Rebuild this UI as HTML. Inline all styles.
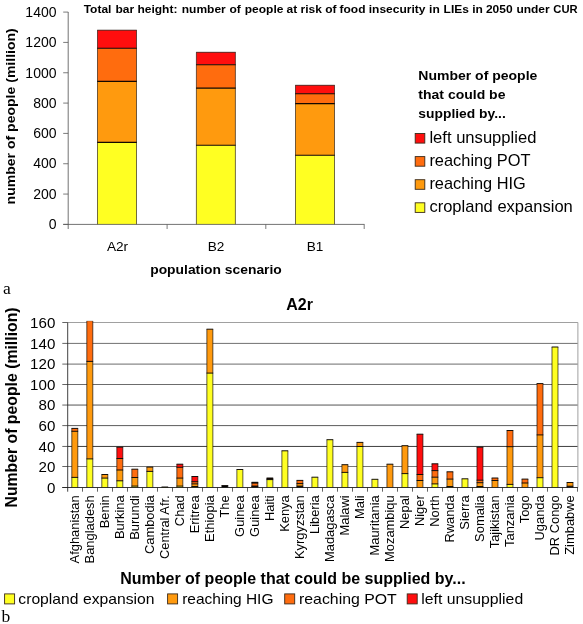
<!DOCTYPE html>
<html><head><meta charset="utf-8"><title>Food insecurity chart</title>
<style>html,body{margin:0;padding:0;background:#fff;}body{width:583px;height:624px;overflow:hidden;}svg{display:block;will-change:transform;}text{font-family:"Liberation Sans",sans-serif;fill:#000;}.b{font-weight:bold;}.s{font-family:"Liberation Serif",serif;}</style></head><body>
<svg width="583" height="624" viewBox="0 0 583 624">
<rect x="0" y="0" width="583" height="624" fill="#fff"/>
<g id="top">
<rect x="97.50" y="142.40" width="39.00" height="82.00" fill="#FFFF22"/>
<rect x="97.50" y="81.40" width="39.00" height="61.00" fill="#FF9A0E"/>
<rect x="97.50" y="48.30" width="39.00" height="33.10" fill="#FF6C0E"/>
<rect x="97.50" y="30.20" width="39.00" height="18.10" fill="#FF0E0E"/>
<path d="M97.50 224.40 V30.20 M136.50 224.40 V30.20" stroke="#120800" stroke-width="0.6" fill="none"/>
<path d="M97.20 142.40 H136.80 M97.20 81.40 H136.80 M97.20 48.30 H136.80 " stroke="#120800" stroke-width="1.1" fill="none"/>
<path d="M97.20 30.20 H136.80" stroke="#120800" stroke-width="0.7" fill="none"/>
<rect x="196.40" y="145.20" width="39.00" height="79.20" fill="#FFFF22"/>
<rect x="196.40" y="88.10" width="39.00" height="57.10" fill="#FF9A0E"/>
<rect x="196.40" y="64.70" width="39.00" height="23.40" fill="#FF6C0E"/>
<rect x="196.40" y="52.30" width="39.00" height="12.40" fill="#FF0E0E"/>
<path d="M196.40 224.40 V52.30 M235.40 224.40 V52.30" stroke="#120800" stroke-width="0.6" fill="none"/>
<path d="M196.10 145.20 H235.70 M196.10 88.10 H235.70 M196.10 64.70 H235.70 " stroke="#120800" stroke-width="1.1" fill="none"/>
<path d="M196.10 52.30 H235.70" stroke="#120800" stroke-width="0.7" fill="none"/>
<rect x="295.50" y="155.30" width="39.00" height="69.10" fill="#FFFF22"/>
<rect x="295.50" y="103.60" width="39.00" height="51.70" fill="#FF9A0E"/>
<rect x="295.50" y="93.80" width="39.00" height="9.80" fill="#FF6C0E"/>
<rect x="295.50" y="85.30" width="39.00" height="8.50" fill="#FF0E0E"/>
<path d="M295.50 224.40 V85.30 M334.50 224.40 V85.30" stroke="#120800" stroke-width="0.6" fill="none"/>
<path d="M295.20 155.30 H334.80 M295.20 103.60 H334.80 M295.20 93.80 H334.80 " stroke="#120800" stroke-width="1.1" fill="none"/>
<path d="M295.20 85.30 H334.80" stroke="#120800" stroke-width="0.7" fill="none"/>
<path d="M68.2 12 V229" stroke="#5a5a5a" stroke-width="0.85" fill="none"/>
<path d="M63.2 224.4 H364.5" stroke="#5a5a5a" stroke-width="0.85" fill="none"/>
<path d="M63.2 224.40 H68.2 M63.2 194.07 H68.2 M63.2 163.74 H68.2 M63.2 133.41 H68.2 M63.2 103.08 H68.2 M63.2 72.75 H68.2 M63.2 42.42 H68.2 M63.2 12.09 H68.2 M167.1 224.4 V229 M265.8 224.4 V229 M364.2 224.4 V229 " stroke="#5a5a5a" stroke-width="0.8" fill="none"/>
<text x="56.5" y="229.15" font-size="14" text-anchor="end">0</text>
<text x="56.5" y="198.82" font-size="14" text-anchor="end">200</text>
<text x="56.5" y="168.49" font-size="14" text-anchor="end">400</text>
<text x="56.5" y="138.16" font-size="14" text-anchor="end">600</text>
<text x="56.5" y="107.83" font-size="14" text-anchor="end">800</text>
<text x="56.5" y="77.50" font-size="14" text-anchor="end">1000</text>
<text x="56.5" y="47.17" font-size="14" text-anchor="end">1200</text>
<text x="56.5" y="16.84" font-size="14" text-anchor="end">1400</text>
<text x="117.5" y="250.6" font-size="13.6" text-anchor="middle">A2r</text>
<text x="216" y="250.6" font-size="13.6" text-anchor="middle">B2</text>
<text x="315" y="250.6" font-size="13.6" text-anchor="middle">B1</text>
<text class="b" x="150.2" y="274.4" font-size="12.7" textLength="131.6" lengthAdjust="spacingAndGlyphs">population scenario</text>
<text class="b" transform="translate(14.9 204.4) rotate(-90)" font-size="12.4" textLength="176.2" lengthAdjust="spacingAndGlyphs">number of people (million)</text>
<text class="b" transform="translate(0.4 13.1) scale(1 0.945)" y="0" font-size="12"><tspan x="83.3">Total </tspan><tspan x="115.1">bar </tspan><tspan x="137.1">height: </tspan><tspan x="181.4">number </tspan><tspan x="229.1">of </tspan><tspan x="244.4">people </tspan><tspan x="286.2">at </tspan><tspan x="300.2">risk </tspan><tspan x="324.9">of </tspan><tspan x="339.1">food </tspan><tspan x="368.4">insecurity </tspan><tspan x="428.7">in </tspan><tspan x="443.2">LIEs </tspan><tspan x="471.9">in </tspan><tspan x="485.5">2050 </tspan><tspan x="516.0">under </tspan><tspan x="552.9" textLength="24.3" lengthAdjust="spacingAndGlyphs">CUR</tspan></text>
<text class="b" x="418.35" y="79.8" font-size="13.5" textLength="119.0" lengthAdjust="spacingAndGlyphs">Number of people</text>
<text class="b" x="418.35" y="98.8" font-size="13.5" textLength="87.1" lengthAdjust="spacingAndGlyphs">that could be</text>
<text class="b" x="418.35" y="117.8" font-size="13.5" textLength="87.4" lengthAdjust="spacingAndGlyphs">supplied by...</text>
<rect x="415.2" y="133.5" width="9.6" height="9.6" fill="#FF0E0E" stroke="#3a2a1a" stroke-width="0.9"/>
<text x="429.4" y="143.0" font-size="15.9" textLength="107.0" lengthAdjust="spacingAndGlyphs">left unsupplied</text>
<rect x="415.2" y="156.6" width="9.6" height="9.6" fill="#FF6C0E" stroke="#3a2a1a" stroke-width="0.9"/>
<text x="429.4" y="166.1" font-size="15.9" textLength="101.2" lengthAdjust="spacingAndGlyphs">reaching POT</text>
<rect x="415.2" y="179.7" width="9.6" height="9.6" fill="#FF9A0E" stroke="#3a2a1a" stroke-width="0.9"/>
<text x="429.4" y="189.2" font-size="15.9" textLength="96.3" lengthAdjust="spacingAndGlyphs">reaching HIG</text>
<rect x="415.2" y="202.8" width="9.6" height="9.6" fill="#FFFF22" stroke="#3a2a1a" stroke-width="0.9"/>
<text x="429.4" y="212.3" font-size="15.9" textLength="143.4" lengthAdjust="spacingAndGlyphs">cropland expansion</text>
<text class="s" x="2.9" y="293.6" font-size="17.5">a</text>
</g>
<g id="bot">
<path d="M67.7 466.5 H577.9" stroke="#777" stroke-width="1" fill="none"/>
<path d="M67.7 446.45 H577.9" stroke="#3e3e3e" stroke-width="1" fill="none"/>
<path d="M67.7 425.6 H577.9" stroke="#5c5c5c" stroke-width="1" fill="none"/>
<path d="M67.7 405.05 H577.9" stroke="#555" stroke-width="1" fill="none"/>
<path d="M67.7 384.5 H577.9" stroke="#6c6c6c" stroke-width="1" fill="none"/>
<path d="M67.7 364.1 H577.9" stroke="#6c6c6c" stroke-width="1" fill="none"/>
<path d="M67.7 343.4 H577.9" stroke="#707070" stroke-width="1" fill="none"/>
<path d="M67.7 322.5 H577.9 V487.5" stroke="#a0a0a0" stroke-width="1" fill="none"/>
<rect x="71.80" y="477.40" width="6.00" height="10.10" fill="#FFFF22"/>
<rect x="71.80" y="431.30" width="6.00" height="46.10" fill="#FF9A0E"/>
<rect x="71.80" y="428.40" width="6.00" height="2.90" fill="#FF6C0E"/>
<path d="M71.80 487.50 V428.40 M77.80 487.50 V428.40" stroke="#0a0500" stroke-width="0.65" fill="none"/>
<path d="M71.48 477.40 H78.13 M71.48 431.30 H78.13 " stroke="#0a0500" stroke-width="0.95" fill="none"/>
<path d="M71.48 428.40 H78.13" stroke="#0a0500" stroke-width="0.95" fill="none"/>
<rect x="86.81" y="458.90" width="6.00" height="28.60" fill="#FFFF22"/>
<rect x="86.81" y="361.40" width="6.00" height="97.50" fill="#FF9A0E"/>
<rect x="86.81" y="321.10" width="6.00" height="40.30" fill="#FF6C0E"/>
<path d="M86.81 487.50 V321.10 M92.81 487.50 V321.10" stroke="#0a0500" stroke-width="0.65" fill="none"/>
<path d="M86.48 458.90 H93.13 M86.48 361.40 H93.13 " stroke="#0a0500" stroke-width="0.95" fill="none"/>
<path d="M86.48 321.10 H93.13" stroke="#0a0500" stroke-width="0.25" fill="none"/>
<rect x="101.81" y="478.10" width="6.00" height="9.40" fill="#FFFF22"/>
<rect x="101.81" y="474.50" width="6.00" height="3.60" fill="#FF9A0E"/>
<path d="M101.81 487.50 V474.50 M107.81 487.50 V474.50" stroke="#0a0500" stroke-width="0.65" fill="none"/>
<path d="M101.49 478.10 H108.14 " stroke="#0a0500" stroke-width="0.95" fill="none"/>
<path d="M101.49 474.50 H108.14" stroke="#0a0500" stroke-width="0.95" fill="none"/>
<rect x="116.82" y="480.80" width="6.00" height="6.70" fill="#FFFF22"/>
<rect x="116.82" y="470.00" width="6.00" height="10.80" fill="#FF9A0E"/>
<rect x="116.82" y="458.50" width="6.00" height="11.50" fill="#FF6C0E"/>
<rect x="116.82" y="447.20" width="6.00" height="11.30" fill="#FF0E0E"/>
<path d="M116.82 487.50 V447.20 M122.82 487.50 V447.20" stroke="#0a0500" stroke-width="0.65" fill="none"/>
<path d="M116.50 480.80 H123.15 M116.50 470.00 H123.15 M116.50 458.50 H123.15 " stroke="#0a0500" stroke-width="0.95" fill="none"/>
<path d="M116.50 447.20 H123.15" stroke="#0a0500" stroke-width="0.95" fill="none"/>
<rect x="131.83" y="486.10" width="6.00" height="1.40" fill="#FFFF22"/>
<rect x="131.83" y="477.50" width="6.00" height="8.60" fill="#FF9A0E"/>
<rect x="131.83" y="469.20" width="6.00" height="8.30" fill="#FF6C0E"/>
<path d="M131.83 487.50 V469.20 M137.83 487.50 V469.20" stroke="#0a0500" stroke-width="0.65" fill="none"/>
<path d="M131.50 486.10 H138.15 M131.50 477.50 H138.15 " stroke="#0a0500" stroke-width="0.95" fill="none"/>
<path d="M131.50 469.20 H138.15" stroke="#0a0500" stroke-width="0.95" fill="none"/>
<rect x="146.83" y="471.40" width="6.00" height="16.10" fill="#FFFF22"/>
<rect x="146.83" y="467.10" width="6.00" height="4.30" fill="#FF9A0E"/>
<path d="M146.83 487.50 V467.10 M152.83 487.50 V467.10" stroke="#0a0500" stroke-width="0.65" fill="none"/>
<path d="M146.51 471.40 H153.16 " stroke="#0a0500" stroke-width="0.95" fill="none"/>
<path d="M146.51 467.10 H153.16" stroke="#0a0500" stroke-width="0.95" fill="none"/>
<rect x="161.84" y="487.00" width="6.00" height="0.50" fill="#FFFF22"/>
<path d="M161.84 487.50 V487.00 M167.84 487.50 V487.00" stroke="#0a0500" stroke-width="0.65" fill="none"/>
<path d="M161.51 487.00 H168.16" stroke="#0a0500" stroke-width="0.95" fill="none"/>
<rect x="176.84" y="486.10" width="6.00" height="1.40" fill="#FFFF22"/>
<rect x="176.84" y="478.10" width="6.00" height="8.00" fill="#FF9A0E"/>
<rect x="176.84" y="467.30" width="6.00" height="10.80" fill="#FF6C0E"/>
<rect x="176.84" y="464.20" width="6.00" height="3.10" fill="#FF0E0E"/>
<path d="M176.84 487.50 V464.20 M182.84 487.50 V464.20" stroke="#0a0500" stroke-width="0.65" fill="none"/>
<path d="M176.52 486.10 H183.17 M176.52 478.10 H183.17 M176.52 467.30 H183.17 " stroke="#0a0500" stroke-width="0.95" fill="none"/>
<path d="M176.52 464.20 H183.17" stroke="#0a0500" stroke-width="0.95" fill="none"/>
<rect x="191.85" y="486.50" width="6.00" height="1.00" fill="#FFFF22"/>
<rect x="191.85" y="483.90" width="6.00" height="2.60" fill="#FF9A0E"/>
<rect x="191.85" y="481.70" width="6.00" height="2.20" fill="#FF6C0E"/>
<rect x="191.85" y="476.50" width="6.00" height="5.20" fill="#FF0E0E"/>
<path d="M191.85 487.50 V476.50 M197.85 487.50 V476.50" stroke="#0a0500" stroke-width="0.65" fill="none"/>
<path d="M191.53 486.50 H198.17 M191.53 483.90 H198.17 M191.53 481.70 H198.17 " stroke="#0a0500" stroke-width="0.95" fill="none"/>
<path d="M191.53 476.50 H198.17" stroke="#0a0500" stroke-width="0.95" fill="none"/>
<rect x="206.86" y="373.10" width="6.00" height="114.40" fill="#FFFF22"/>
<rect x="206.86" y="329.20" width="6.00" height="43.90" fill="#FF9A0E"/>
<path d="M206.86 487.50 V329.20 M212.86 487.50 V329.20" stroke="#0a0500" stroke-width="0.65" fill="none"/>
<path d="M206.53 373.10 H213.18 " stroke="#0a0500" stroke-width="0.95" fill="none"/>
<path d="M206.53 329.20 H213.18" stroke="#0a0500" stroke-width="0.95" fill="none"/>
<rect x="221.86" y="485.60" width="6.00" height="1.90" fill="#000"/>
<path d="M221.86 487.50 V485.60 M227.86 487.50 V485.60" stroke="#0a0500" stroke-width="0.65" fill="none"/>
<path d="M221.54 485.60 H228.19" stroke="#0a0500" stroke-width="0.95" fill="none"/>
<rect x="236.87" y="469.50" width="6.00" height="18.00" fill="#FFFF22"/>
<path d="M236.87 487.50 V469.50 M242.87 487.50 V469.50" stroke="#0a0500" stroke-width="0.65" fill="none"/>
<path d="M236.54 469.50 H243.19" stroke="#0a0500" stroke-width="0.95" fill="none"/>
<rect x="251.87" y="486.30" width="6.00" height="1.20" fill="#000"/>
<rect x="251.87" y="486.20" width="6.00" height="0.10" fill="#FF9A0E"/>
<rect x="251.87" y="483.10" width="6.00" height="3.10" fill="#FF6C0E"/>
<rect x="251.87" y="482.30" width="6.00" height="0.80" fill="#000"/>
<path d="M251.87 487.50 V482.30 M257.87 487.50 V482.30" stroke="#0a0500" stroke-width="0.65" fill="none"/>
<path d="M251.55 486.30 H258.20 M251.55 486.20 H258.20 M251.55 483.10 H258.20 " stroke="#0a0500" stroke-width="0.95" fill="none"/>
<path d="M251.55 482.30 H258.20" stroke="#0a0500" stroke-width="0.95" fill="none"/>
<rect x="266.88" y="479.60" width="6.00" height="7.90" fill="#FFFF22"/>
<rect x="266.88" y="478.00" width="6.00" height="1.60" fill="#1a0c00"/>
<path d="M266.88 487.50 V478.00 M272.88 487.50 V478.00" stroke="#0a0500" stroke-width="0.65" fill="none"/>
<path d="M266.55 479.60 H273.20 " stroke="#0a0500" stroke-width="0.95" fill="none"/>
<path d="M266.55 478.00 H273.20" stroke="#0a0500" stroke-width="0.95" fill="none"/>
<rect x="281.89" y="450.80" width="6.00" height="36.70" fill="#FFFF22"/>
<path d="M281.89 487.50 V450.80 M287.89 487.50 V450.80" stroke="#0a0500" stroke-width="0.65" fill="none"/>
<path d="M281.56 450.80 H288.21" stroke="#0a0500" stroke-width="0.95" fill="none"/>
<rect x="296.89" y="486.10" width="6.00" height="1.40" fill="#000"/>
<rect x="296.89" y="483.60" width="6.00" height="2.50" fill="#FF9A0E"/>
<rect x="296.89" y="480.40" width="6.00" height="3.20" fill="#FF6C0E"/>
<path d="M296.89 487.50 V480.40 M302.89 487.50 V480.40" stroke="#0a0500" stroke-width="0.65" fill="none"/>
<path d="M296.57 486.10 H303.22 M296.57 483.60 H303.22 " stroke="#0a0500" stroke-width="0.95" fill="none"/>
<path d="M296.57 480.40 H303.22" stroke="#0a0500" stroke-width="0.95" fill="none"/>
<rect x="311.90" y="477.20" width="6.00" height="10.30" fill="#FFFF22"/>
<path d="M311.90 487.50 V477.20 M317.90 487.50 V477.20" stroke="#0a0500" stroke-width="0.65" fill="none"/>
<path d="M311.57 477.20 H318.22" stroke="#0a0500" stroke-width="0.95" fill="none"/>
<rect x="326.90" y="439.70" width="6.00" height="47.80" fill="#FFFF22"/>
<path d="M326.90 487.50 V439.70 M332.90 487.50 V439.70" stroke="#0a0500" stroke-width="0.65" fill="none"/>
<path d="M326.58 439.70 H333.23" stroke="#0a0500" stroke-width="0.95" fill="none"/>
<rect x="341.91" y="472.40" width="6.00" height="15.10" fill="#FFFF22"/>
<rect x="341.91" y="464.70" width="6.00" height="7.70" fill="#FF9A0E"/>
<path d="M341.91 487.50 V464.70 M347.91 487.50 V464.70" stroke="#0a0500" stroke-width="0.65" fill="none"/>
<path d="M341.58 472.40 H348.23 " stroke="#0a0500" stroke-width="0.95" fill="none"/>
<path d="M341.58 464.70 H348.23" stroke="#0a0500" stroke-width="0.95" fill="none"/>
<rect x="356.91" y="446.50" width="6.00" height="41.00" fill="#FFFF22"/>
<rect x="356.91" y="442.40" width="6.00" height="4.10" fill="#FF9A0E"/>
<path d="M356.91 487.50 V442.40 M362.91 487.50 V442.40" stroke="#0a0500" stroke-width="0.65" fill="none"/>
<path d="M356.59 446.50 H363.24 " stroke="#0a0500" stroke-width="0.95" fill="none"/>
<path d="M356.59 442.40 H363.24" stroke="#0a0500" stroke-width="0.95" fill="none"/>
<rect x="371.92" y="479.30" width="6.00" height="8.20" fill="#FFFF22"/>
<path d="M371.92 487.50 V479.30 M377.92 487.50 V479.30" stroke="#0a0500" stroke-width="0.65" fill="none"/>
<path d="M371.60 479.30 H378.25" stroke="#0a0500" stroke-width="0.95" fill="none"/>
<rect x="386.93" y="464.20" width="6.00" height="23.30" fill="#FF9A0E"/>
<path d="M386.93 487.50 V464.20 M392.93 487.50 V464.20" stroke="#0a0500" stroke-width="0.65" fill="none"/>
<path d="M386.60 464.20 H393.25" stroke="#0a0500" stroke-width="0.95" fill="none"/>
<rect x="401.93" y="473.60" width="6.00" height="13.90" fill="#FFFF22"/>
<rect x="401.93" y="445.70" width="6.00" height="27.90" fill="#FF9A0E"/>
<path d="M401.93 487.50 V445.70 M407.93 487.50 V445.70" stroke="#0a0500" stroke-width="0.65" fill="none"/>
<path d="M401.61 473.60 H408.26 " stroke="#0a0500" stroke-width="0.95" fill="none"/>
<path d="M401.61 445.70 H408.26" stroke="#0a0500" stroke-width="0.95" fill="none"/>
<rect x="416.94" y="480.50" width="6.00" height="7.00" fill="#FF9A0E"/>
<rect x="416.94" y="474.50" width="6.00" height="6.00" fill="#FF6C0E"/>
<rect x="416.94" y="434.20" width="6.00" height="40.30" fill="#FF0E0E"/>
<path d="M416.94 487.50 V434.20 M422.94 487.50 V434.20" stroke="#0a0500" stroke-width="0.65" fill="none"/>
<path d="M416.61 480.50 H423.26 M416.61 474.50 H423.26 " stroke="#0a0500" stroke-width="0.95" fill="none"/>
<path d="M416.61 434.20 H423.26" stroke="#0a0500" stroke-width="0.95" fill="none"/>
<rect x="431.94" y="483.90" width="6.00" height="3.60" fill="#FFFF22"/>
<rect x="431.94" y="477.20" width="6.00" height="6.70" fill="#FF9A0E"/>
<rect x="431.94" y="470.60" width="6.00" height="6.60" fill="#FF6C0E"/>
<rect x="431.94" y="463.80" width="6.00" height="6.80" fill="#FF0E0E"/>
<path d="M431.94 487.50 V463.80 M437.94 487.50 V463.80" stroke="#0a0500" stroke-width="0.65" fill="none"/>
<path d="M431.62 483.90 H438.27 M431.62 477.20 H438.27 M431.62 470.60 H438.27 " stroke="#0a0500" stroke-width="0.95" fill="none"/>
<path d="M431.62 463.80 H438.27" stroke="#0a0500" stroke-width="0.95" fill="none"/>
<rect x="446.95" y="486.50" width="6.00" height="1.00" fill="#FFFF22"/>
<rect x="446.95" y="479.10" width="6.00" height="7.40" fill="#FF9A0E"/>
<rect x="446.95" y="471.80" width="6.00" height="7.30" fill="#FF6C0E"/>
<path d="M446.95 487.50 V471.80 M452.95 487.50 V471.80" stroke="#0a0500" stroke-width="0.65" fill="none"/>
<path d="M446.62 486.50 H453.27 M446.62 479.10 H453.27 " stroke="#0a0500" stroke-width="0.95" fill="none"/>
<path d="M446.62 471.80 H453.27" stroke="#0a0500" stroke-width="0.95" fill="none"/>
<rect x="461.96" y="478.80" width="6.00" height="8.70" fill="#FFFF22"/>
<path d="M461.96 487.50 V478.80 M467.96 487.50 V478.80" stroke="#0a0500" stroke-width="0.65" fill="none"/>
<path d="M461.63 478.80 H468.28" stroke="#0a0500" stroke-width="0.95" fill="none"/>
<rect x="476.96" y="486.50" width="6.00" height="1.00" fill="#FFFF22"/>
<rect x="476.96" y="482.70" width="6.00" height="3.80" fill="#FF9A0E"/>
<rect x="476.96" y="480.20" width="6.00" height="2.50" fill="#FF6C0E"/>
<rect x="476.96" y="447.20" width="6.00" height="33.00" fill="#FF0E0E"/>
<path d="M476.96 487.50 V447.20 M482.96 487.50 V447.20" stroke="#0a0500" stroke-width="0.65" fill="none"/>
<path d="M476.64 486.50 H483.29 M476.64 482.70 H483.29 M476.64 480.20 H483.29 " stroke="#0a0500" stroke-width="0.95" fill="none"/>
<path d="M476.64 447.20 H483.29" stroke="#0a0500" stroke-width="0.95" fill="none"/>
<rect x="491.97" y="480.50" width="6.00" height="7.00" fill="#FF9A0E"/>
<rect x="491.97" y="478.00" width="6.00" height="2.50" fill="#FF6C0E"/>
<path d="M491.97 487.50 V478.00 M497.97 487.50 V478.00" stroke="#0a0500" stroke-width="0.65" fill="none"/>
<path d="M491.64 480.50 H498.29 " stroke="#0a0500" stroke-width="0.95" fill="none"/>
<path d="M491.64 478.00 H498.29" stroke="#0a0500" stroke-width="0.95" fill="none"/>
<rect x="506.97" y="484.40" width="6.00" height="3.10" fill="#FFFF22"/>
<rect x="506.97" y="446.70" width="6.00" height="37.70" fill="#FF9A0E"/>
<rect x="506.97" y="430.50" width="6.00" height="16.20" fill="#FF6C0E"/>
<path d="M506.97 487.50 V430.50 M512.97 487.50 V430.50" stroke="#0a0500" stroke-width="0.65" fill="none"/>
<path d="M506.65 484.40 H513.30 M506.65 446.70 H513.30 " stroke="#0a0500" stroke-width="0.95" fill="none"/>
<path d="M506.65 430.50 H513.30" stroke="#0a0500" stroke-width="0.95" fill="none"/>
<rect x="521.98" y="483.00" width="6.00" height="4.50" fill="#FF9A0E"/>
<rect x="521.98" y="479.10" width="6.00" height="3.90" fill="#FF6C0E"/>
<path d="M521.98 487.50 V479.10 M527.98 487.50 V479.10" stroke="#0a0500" stroke-width="0.65" fill="none"/>
<path d="M521.65 483.00 H528.30 " stroke="#0a0500" stroke-width="0.95" fill="none"/>
<path d="M521.65 479.10 H528.30" stroke="#0a0500" stroke-width="0.95" fill="none"/>
<rect x="536.99" y="477.70" width="6.00" height="9.80" fill="#FFFF22"/>
<rect x="536.99" y="434.90" width="6.00" height="42.80" fill="#FF9A0E"/>
<rect x="536.99" y="383.60" width="6.00" height="51.30" fill="#FF6C0E"/>
<path d="M536.99 487.50 V383.60 M542.99 487.50 V383.60" stroke="#0a0500" stroke-width="0.65" fill="none"/>
<path d="M536.66 477.70 H543.31 M536.66 434.90 H543.31 " stroke="#0a0500" stroke-width="0.95" fill="none"/>
<path d="M536.66 383.60 H543.31" stroke="#0a0500" stroke-width="0.95" fill="none"/>
<rect x="551.99" y="347.00" width="6.00" height="140.50" fill="#FFFF22"/>
<path d="M551.99 487.50 V347.00 M557.99 487.50 V347.00" stroke="#0a0500" stroke-width="0.65" fill="none"/>
<path d="M551.67 347.00 H558.32" stroke="#0a0500" stroke-width="0.95" fill="none"/>
<rect x="567.00" y="486.20" width="6.00" height="1.30" fill="#000"/>
<rect x="567.00" y="482.50" width="6.00" height="3.70" fill="#FF9A0E"/>
<path d="M567.00 487.50 V482.50 M573.00 487.50 V482.50" stroke="#0a0500" stroke-width="0.65" fill="none"/>
<path d="M566.67 486.20 H573.32 " stroke="#0a0500" stroke-width="0.95" fill="none"/>
<path d="M566.67 482.50 H573.32" stroke="#0a0500" stroke-width="0.95" fill="none"/>
<path d="M67.7 322.5 V491.7" stroke="#111" stroke-width="0.8" fill="none"/>
<path d="M62.300000000000004 487.5 H577.9" stroke="#111" stroke-width="0.85" fill="none"/>
<path d="M62.300000000000004 487.50 H67.7 M62.300000000000004 466.50 H67.7 M62.300000000000004 446.45 H67.7 M62.300000000000004 425.60 H67.7 M62.300000000000004 405.05 H67.7 M62.300000000000004 384.50 H67.7 M62.300000000000004 364.10 H67.7 M62.300000000000004 343.40 H67.7 M62.300000000000004 322.50 H67.7 M82.50 487.5 V491.7 M97.50 487.5 V491.7 M112.50 487.5 V491.7 M127.50 487.5 V491.7 M142.50 487.5 V491.7 M157.50 487.5 V491.7 M172.50 487.5 V491.7 M187.50 487.5 V491.7 M202.50 487.5 V491.7 M217.50 487.5 V491.7 M232.50 487.5 V491.7 M247.50 487.5 V491.7 M262.50 487.5 V491.7 M277.50 487.5 V491.7 M292.50 487.5 V491.7 M307.50 487.5 V491.7 M322.50 487.5 V491.7 M337.50 487.5 V491.7 M352.50 487.5 V491.7 M367.50 487.5 V491.7 M382.50 487.5 V491.7 M397.50 487.5 V491.7 M412.50 487.5 V491.7 M427.50 487.5 V491.7 M442.50 487.5 V491.7 M457.50 487.5 V491.7 M472.50 487.5 V491.7 M487.50 487.5 V491.7 M502.50 487.5 V491.7 M517.50 487.5 V491.7 M532.50 487.5 V491.7 M547.50 487.5 V491.7 M562.50 487.5 V491.7 M577.50 487.5 V491.7 " stroke="#222" stroke-width="0.7" fill="none"/>
<text x="55.3" y="492.8" font-size="15.1" text-anchor="end">0</text>
<text x="55.3" y="471.8" font-size="15.1" text-anchor="end">20</text>
<text x="55.3" y="451.8" font-size="15.1" text-anchor="end">40</text>
<text x="55.3" y="430.9" font-size="15.1" text-anchor="end">60</text>
<text x="55.3" y="410.4" font-size="15.1" text-anchor="end">80</text>
<text x="55.3" y="389.8" font-size="15.1" text-anchor="end">100</text>
<text x="55.3" y="369.4" font-size="15.1" text-anchor="end">120</text>
<text x="55.3" y="348.7" font-size="15.1" text-anchor="end">140</text>
<text x="55.3" y="327.8" font-size="15.1" text-anchor="end">160</text>
<text transform="translate(79.10 495.3) rotate(-90)" font-size="12.9" text-anchor="end">Afghanistan</text>
<text transform="translate(94.11 495.3) rotate(-90)" font-size="12.9" text-anchor="end">Bangladesh</text>
<text transform="translate(109.11 495.3) rotate(-90)" font-size="12.9" text-anchor="end">Benin</text>
<text transform="translate(124.12 495.3) rotate(-90)" font-size="12.9" text-anchor="end">Burkina</text>
<text transform="translate(139.13 495.3) rotate(-90)" font-size="12.9" text-anchor="end">Burundi</text>
<text transform="translate(154.13 495.3) rotate(-90)" font-size="12.9" text-anchor="end">Cambodia</text>
<text transform="translate(169.14 495.3) rotate(-90)" font-size="12.9" text-anchor="end">Central Afr.</text>
<text transform="translate(184.14 495.3) rotate(-90)" font-size="12.9" text-anchor="end">Chad</text>
<text transform="translate(199.15 495.3) rotate(-90)" font-size="12.9" text-anchor="end">Eritrea</text>
<text transform="translate(214.16 495.3) rotate(-90)" font-size="12.9" text-anchor="end">Ethiopia</text>
<text transform="translate(229.16 495.3) rotate(-90)" font-size="12.9" text-anchor="end">The</text>
<text transform="translate(244.17 495.3) rotate(-90)" font-size="12.9" text-anchor="end">Guinea</text>
<text transform="translate(259.17 495.3) rotate(-90)" font-size="12.9" text-anchor="end">Guinea</text>
<text transform="translate(274.18 495.3) rotate(-90)" font-size="12.9" text-anchor="end">Haiti</text>
<text transform="translate(289.19 495.3) rotate(-90)" font-size="12.9" text-anchor="end">Kenya</text>
<text transform="translate(304.19 495.3) rotate(-90)" font-size="12.9" text-anchor="end">Kyrgyzstan</text>
<text transform="translate(319.20 495.3) rotate(-90)" font-size="12.9" text-anchor="end">Liberia</text>
<text transform="translate(334.20 495.3) rotate(-90)" font-size="12.9" text-anchor="end">Madagasca</text>
<text transform="translate(349.21 495.3) rotate(-90)" font-size="12.9" text-anchor="end">Malawi</text>
<text transform="translate(364.21 495.3) rotate(-90)" font-size="12.9" text-anchor="end">Mali</text>
<text transform="translate(379.22 495.3) rotate(-90)" font-size="12.9" text-anchor="end">Mauritania</text>
<text transform="translate(394.23 495.3) rotate(-90)" font-size="12.9" text-anchor="end">Mozambiqu</text>
<text transform="translate(409.23 495.3) rotate(-90)" font-size="12.9" text-anchor="end">Nepal</text>
<text transform="translate(424.24 495.3) rotate(-90)" font-size="12.9" text-anchor="end">Niger</text>
<text transform="translate(439.24 495.3) rotate(-90)" font-size="12.9" text-anchor="end">North</text>
<text transform="translate(454.25 495.3) rotate(-90)" font-size="12.9" text-anchor="end">Rwanda</text>
<text transform="translate(469.26 495.3) rotate(-90)" font-size="12.9" text-anchor="end">Sierra</text>
<text transform="translate(484.26 495.3) rotate(-90)" font-size="12.9" text-anchor="end">Somalia</text>
<text transform="translate(499.27 495.3) rotate(-90)" font-size="12.9" text-anchor="end">Tajikistan</text>
<text transform="translate(514.27 495.3) rotate(-90)" font-size="12.9" text-anchor="end">Tanzania</text>
<text transform="translate(529.28 495.3) rotate(-90)" font-size="12.9" text-anchor="end">Togo</text>
<text transform="translate(544.29 495.3) rotate(-90)" font-size="12.9" text-anchor="end">Uganda</text>
<text transform="translate(559.29 495.3) rotate(-90)" font-size="12.9" text-anchor="end">DR Congo</text>
<text transform="translate(574.30 495.3) rotate(-90)" font-size="12.9" text-anchor="end">Zimbabwe</text>
<text class="b" x="286.2" y="309.6" font-size="15.8" textLength="26.7" lengthAdjust="spacingAndGlyphs">A2r</text>
<text class="b" transform="translate(16.7 507.5) rotate(-90)" font-size="15.8">Number of people (million)</text>
<text class="b" x="120.2" y="583.9" font-size="15.6" textLength="345.4" lengthAdjust="spacingAndGlyphs">Number of people that could be supplied by...</text>
<rect x="4.6" y="593.9" width="10" height="10" fill="#FFFF22" stroke="#3a2a1a" stroke-width="0.9"/>
<text x="18.3" y="603.7" font-size="14.4" textLength="136.2" lengthAdjust="spacingAndGlyphs">cropland expansion</text>
<rect x="167.6" y="593.9" width="10" height="10" fill="#FF9A0E" stroke="#3a2a1a" stroke-width="0.9"/>
<text x="182.2" y="603.7" font-size="14.4" textLength="91.3" lengthAdjust="spacingAndGlyphs">reaching HIG</text>
<rect x="284.7" y="593.9" width="10" height="10" fill="#FF6C0E" stroke="#3a2a1a" stroke-width="0.9"/>
<text x="299.0" y="603.7" font-size="14.4" textLength="97.8" lengthAdjust="spacingAndGlyphs">reaching POT</text>
<rect x="407.2" y="593.9" width="10" height="10" fill="#FF0E0E" stroke="#3a2a1a" stroke-width="0.9"/>
<text x="421.3" y="603.7" font-size="14.4" textLength="101.9" lengthAdjust="spacingAndGlyphs">left unsupplied</text>
<text class="s" x="1.5" y="622" font-size="17.5">b</text>
</g>
</svg></body></html>
